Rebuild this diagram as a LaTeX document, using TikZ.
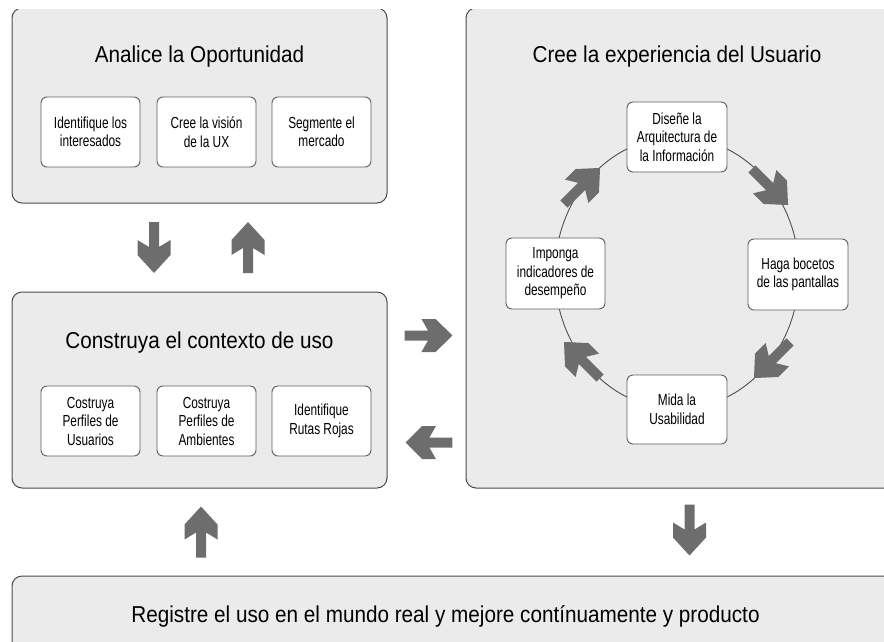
\documentclass[tikz,border=0pt]{standalone}
\usepackage{fontspec}
\setmainfont{Liberation Sans}
\newfontfamily\titlefont{Liberation Sans}[FakeStretch=0.9]
\newfontfamily\smallfont{Liberation Sans}[FakeStretch=0.74]
\definecolor{boxfill}{HTML}{EBEBEB}
\definecolor{boxline}{HTML}{4A4A4A}
\definecolor{innerline}{HTML}{5E5E5E}
\definecolor{arrowfill}{HTML}{6D6D6D}
\definecolor{cycleline}{HTML}{505050}
\tikzset{
  outerbox/.style={draw=boxline, fill=boxfill, rounded corners=10pt, line width=1pt, inner sep=0pt},
  innerbox/.style={draw=innerline, fill=white, rounded corners=6pt, line width=0.9pt,
    align=center, inner sep=0pt, font=\smallfont\fontsize{16}{18.5}\selectfont},
  titletext/.style={font=\titlefont\fontsize{23}{27}\selectfont, anchor=base, inner sep=0pt},
  barrow/.pic={
    \fill[arrowfill] (-25.5,-5) -- (-0.5,-5) -- (-7.5,-16.5) -- (7.5,-16.5) -- (25.5,0)
      -- (7.5,16.5) -- (-7.5,16.5) -- (-0.5,5) -- (-25.5,5) -- cycle;
  }
}
\begin{document}
\begin{tikzpicture}[x=1pt,y=-1pt]
\useasboundingbox (0,0) rectangle (884,641);
\clip (0,9.5) rectangle (884,641);
% outer boxes
\node[outerbox, minimum width=375pt, minimum height=195pt] (A) at (199.5,105.5) {};
\node[outerbox, minimum width=375pt, minimum height=196pt] (C) at (199.5,390) {};
\node[outerbox, minimum width=444pt, minimum height=480pt] (R) at (688,248) {};
\node[outerbox, minimum width=898pt, minimum height=104pt] (B) at (461,628) {};
% titles
\node[titletext] (tA) at (199.5,62) {Analice la Oportunidad};
\node[titletext] (tR) at (677,62) {Cree la experiencia del Usuario};
\node[titletext] (tC) at (199.5,348) {Construya el contexto de uso};
\node[titletext] (tB) at (445.5,622) {Registre el uso en el mundo real y mejore contínuamente y producto};
% inner boxes top
\node[innerbox, minimum width=99pt, minimum height=70pt] (a1) at (90.5,132) {Identifique los\\interesados};
\node[innerbox, minimum width=99pt, minimum height=70pt] (a2) at (206.5,132) {Cree la visión\\de la UX};
\node[innerbox, minimum width=99pt, minimum height=70pt] (a3) at (321.5,132) {Segmente el\\mercado};
% inner boxes middle
\node[innerbox, minimum width=99pt, minimum height=70pt] (c1) at (90.5,421) {Costruya\\Perfiles de\\Usuarios};
\node[innerbox, minimum width=99pt, minimum height=70pt] (c2) at (206.5,421) {Costruya\\Perfiles de\\Ambientes};
\node[innerbox, minimum width=99pt, minimum height=70pt] (c3) at (321.5,421) {Identifique\\Rutas Rojas};
% cycle
\draw[cycleline, line width=0.9pt] (677,273) ellipse [x radius=122pt, y radius=136pt];
\node[innerbox, minimum width=100pt, minimum height=70pt] (r1) at (677,137) {Diseñe la\\Arquitectura de\\la Información};
\node[innerbox, minimum width=100pt, minimum height=71pt] (r2) at (798,274.5) {Haga bocetos\\de las pantallas};
\node[innerbox, minimum width=100pt, minimum height=69pt] (r3) at (677,409.5) {Mida la\\Usabilidad};
\node[innerbox, minimum width=99pt, minimum height=71pt] (r4) at (555.5,273.5) {Imponga\\indicadores de\\desempeño};
% cycle arrows
\pic[rotate=-45] at (770,187) {barrow};
\pic[rotate=-135] at (772,360) {barrow};
\pic[rotate=135] at (582,360) {barrow};
\pic[rotate=45] at (582,186) {barrow};
% block arrows between boxes
\pic[rotate=-90] at (154,247.5) {barrow};
\pic[rotate=90] at (248,247.5) {barrow};
\pic[xscale=0.94] at (428.5,335.5) {barrow};
\pic[rotate=180, xscale=0.92] at (429,442.5) {barrow};
\pic[rotate=-90] at (689.5,530) {barrow};
\pic[rotate=90] at (201,532) {barrow};
\end{tikzpicture}
\end{document}
